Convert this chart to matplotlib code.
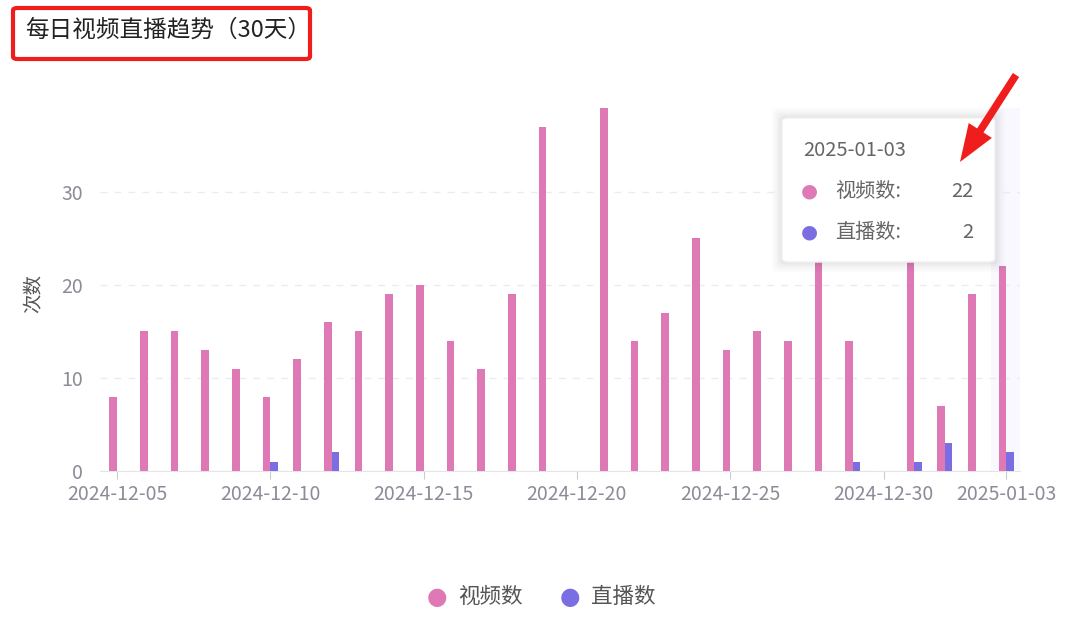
import numpy as np
import pandas as pd
import matplotlib
matplotlib.use("Agg")
import matplotlib.pyplot as plt
import matplotlib.dates as mdates
from matplotlib.patches import FancyBboxPatch, FancyArrowPatch

plt.rcParams['font.family'] = ['Noto Sans CJK SC', 'DejaVu Sans']

# ------------------------------------------------------------
# data
# ------------------------------------------------------------
days = pd.date_range("2024-12-05", "2025-01-03", freq="D")
video_counts = [8, 15, 15, 13, 11, 8, 12, 16, 15, 19,
                20, 14, 11, 19, 37, 0, 39, 14, 17, 25,
                13, 15, 14, 25, 14, 0, 33, 7, 19, 22]
live_counts = [0, 0, 0, 0, 0, 1, 0, 2, 0, 0,
               0, 0, 0, 0, 0, 0, 0, 0, 0, 0,
               0, 0, 0, 0, 1, 0, 1, 3, 0, 2]
tick_labels = ["2024-12-05", "2024-12-10", "2024-12-15", "2024-12-20",
               "2024-12-25", "2024-12-30", "2025-01-03"]
series_names = ["视频数", "直播数"]
tooltip_day = "2025-01-03"

PINK = "#df79b5"
PURPLE = "#7a6ee2"
GREY = "#8c8c99"
RED = "#f01d1d"


def fx(px):
    return px / 1080


def fy(py):
    return 1 - py / 623


# ------------------------------------------------------------
# figure
# ------------------------------------------------------------
fig = plt.figure(figsize=(10.8, 6.23), dpi=100)
ax = fig.add_axes([fx(100), fy(471), 920 / 1080, 363 / 623])

x = mdates.date2num(days)
bw = 0.245
vid = np.array(video_counts)
liv = np.array(live_counts)
ax.bar(x[vid > 0] - bw / 2, vid[vid > 0], width=bw, color=PINK, zorder=3)
ax.bar(x[liv > 0] + bw / 2, liv[liv > 0], width=bw, color=PURPLE, zorder=3)

# axis pointer shadow on the hovered day
tx = mdates.date2num(pd.Timestamp(tooltip_day))
ax.axvspan(tx - 0.5, tx + 0.5, ymin=0.003, color="#f9f8fe", zorder=1, lw=0)

ax.set_xlim(x[0] - 0.55, x[-1] + 0.45)
ax.set_ylim(0, 39)

ax.set_yticks([0, 10, 20, 30])
ax.yaxis.grid(True, linestyle=(0, (5, 5)), color="#ececf0", lw=1, zorder=0)
ax.tick_params(axis="y", length=0, labelsize=14, labelcolor=GREY, pad=12)

tick_pos = mdates.date2num(pd.to_datetime(tick_labels))
ax.set_xticks(tick_pos)
ax.set_xticklabels(tick_labels)
ax.tick_params(axis="x", length=6, color="#c9cbd3", labelsize=14,
               labelcolor=GREY, pad=3)

for s in ["top", "right", "left"]:
    ax.spines[s].set_visible(False)
ax.spines["bottom"].set_color("#e4e5ea")

ax.set_ylabel("次数", fontsize=14, color="#555555")
ax.yaxis.set_label_coords(-0.06, 0.49)

# ------------------------------------------------------------
# title with the red highlight box
# ------------------------------------------------------------
fig.text(fx(25), fy(30), "每日视频直播趋势（30天）", fontsize=17,
         color="#222222", va="center", ha="left")
fig.patches.append(FancyBboxPatch((fx(13), fy(59)), 297 / 1080, 51 / 623,
                                  boxstyle="round,pad=0,rounding_size=0.004",
                                  transform=fig.transFigure, fill=False,
                                  ec=RED, lw=3))

# ------------------------------------------------------------
# legend
# ------------------------------------------------------------
for cx, col, name in [(437, PINK, series_names[0]), (570, PURPLE, series_names[1])]:
    fig.text(fx(cx), fy(597), "●", fontsize=17, color=col,
             ha="center", va="center", family="DejaVu Sans")
    fig.text(fx(cx + 21), fy(597), name, fontsize=15.5,
             color="#555555", ha="left", va="center")

# ------------------------------------------------------------
# tooltip
# ------------------------------------------------------------
for i, a in enumerate([0.03, 0.025, 0.02, 0.015]):
    g = (i + 1) * 2.5
    fig.patches.append(FancyBboxPatch((fx(782 - g), fy(262 + g)),
                                      (213 + 2 * g) / 1080, (144 + 2 * g) / 623,
                                      boxstyle="round,pad=0,rounding_size=0.006",
                                      transform=fig.transFigure, fc="black",
                                      ec="none", alpha=a, zorder=5))
fig.patches.append(FancyBboxPatch((fx(782), fy(262)), 213 / 1080, 144 / 623,
                                  boxstyle="round,pad=0,rounding_size=0.006",
                                  transform=fig.transFigure, fc="white",
                                  ec="#f0f0f0", lw=1, zorder=6))
ti = list(days.strftime("%Y-%m-%d")).index(tooltip_day)
fig.text(fx(803), fy(150), tooltip_day, fontsize=14.5, color="#666666",
         ha="left", va="center", zorder=7)
rows = [(191, PINK, series_names[0], video_counts[ti]),
        (232, PURPLE, series_names[1], live_counts[ti])]
for ry, col, name, val in rows:
    fig.text(fx(809), fy(ry), "●", fontsize=14, color=col,
             ha="center", va="center", family="DejaVu Sans", zorder=7)
    fig.text(fx(835), fy(ry), name + ":", fontsize=14.5, color="#666666",
             ha="left", va="center", zorder=7)
    fig.text(fx(973), fy(ry), str(val), fontsize=14.5, color="#666666",
             ha="right", va="center", zorder=7)

# ------------------------------------------------------------
# red arrow pointing at the tooltip
# ------------------------------------------------------------
arrow = FancyArrowPatch((fx(1016), fy(75)), (fx(960), fy(162)),
                        transform=fig.transFigure,
                        arrowstyle="simple,head_length=1.5,head_width=1.1,tail_width=0.3",
                        mutation_scale=18, color=RED, lw=0,
                        shrinkA=0, shrinkB=0, zorder=8)
fig.add_artist(arrow)

fig.savefig("out.png", dpi=100, facecolor="white")
